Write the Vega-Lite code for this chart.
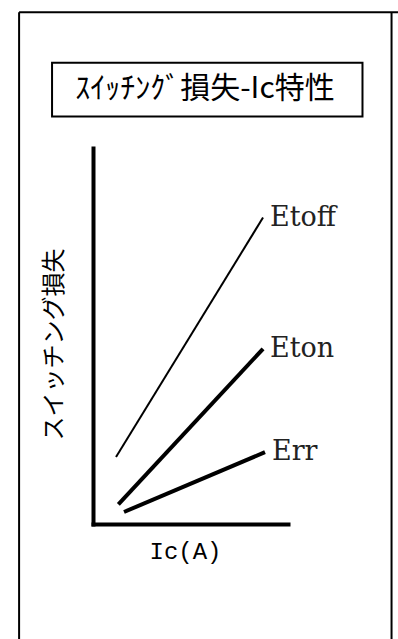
{
  "$schema": "https://vega.github.io/schema/vega-lite/v6.json",
  "width": 195,
  "height": 376,
  "autosize": {"type": "none"},
  "padding": {"left": 93, "top": 148, "right": 110, "bottom": 115},
  "background": "white",
  "config": {"view": {"stroke": null}},
  "data": {"values": [
    {"series": "Etoff", "ic": 11.8, "loss": 17.8},
    {"series": "Etoff", "ic": 87.2, "loss": 81.5},
    {"series": "Eton", "ic": 13.0, "loss": 5.2},
    {"series": "Eton", "ic": 87.2, "loss": 46.6},
    {"series": "Err", "ic": 15.9, "loss": 3.2},
    {"series": "Err", "ic": 88.2, "loss": 19.1}
  ]},
  "layer": [
    {
      "mark": {"type": "line", "color": "black", "clip": false},
      "encoding": {
        "x": {"field": "ic", "type": "quantitative",
          "scale": {"domain": [0, 100], "nice": false, "zero": false},
          "axis": {"domain": true, "domainWidth": 4, "domainColor": "black", "domainCap": "square",
            "ticks": false, "labels": false, "grid": false,
            "title": "Ic(A)", "titleFont": "Liberation Mono", "titleFontSize": 24, "titleFontWeight": "normal",
            "titleColor": "black", "titlePadding": 15, "titleX": 92}},
        "y": {"field": "loss", "type": "quantitative",
          "scale": {"domain": [0, 100], "nice": false, "zero": false},
          "axis": {"domain": true, "domainWidth": 4, "domainColor": "black", "domainCap": "square",
            "ticks": false, "labels": false, "grid": false,
            "title": "スイッチング損失", "titleFont": "Noto Sans CJK JP", "titleFontSize": 24, "titleFontWeight": "normal",
            "titleColor": "black", "titlePadding": 27, "titleY": 196}},
        "detail": {"field": "series"},
        "strokeWidth": {"condition": {"test": "datum.series === 'Etoff'", "value": 2}, "value": 4}
      }
    },
    {
      "transform": [{"filter": "datum.ic > 50"}],
      "mark": {"type": "text", "align": "left", "baseline": "middle", "dx": 7, "font": "DejaVu Serif", "fontSize": 27, "color": "#222"},
      "encoding": {
        "x": {"field": "ic", "type": "quantitative"},
        "y": {"field": "loss", "type": "quantitative"},
        "text": {"field": "series"}
      }
    },
    {
      "data": {"values": [{}]},
      "mark": {"type": "rule", "color": "black", "strokeWidth": 2, "clip": false},
      "encoding": {
        "x": {"datum": -37.9, "type": "quantitative"},
        "x2": {"datum": 156.4},
        "y": {"datum": 136.1, "type": "quantitative"}
      }
    },
    {
      "data": {"values": [{}]},
      "mark": {"type": "rule", "color": "black", "strokeWidth": 2, "clip": false},
      "encoding": {
        "x": {"datum": -37.9, "type": "quantitative"},
        "y": {"datum": 136.1, "type": "quantitative"},
        "y2": {"datum": -32}
      }
    },
    {
      "data": {"values": [{}]},
      "mark": {"type": "rule", "color": "black", "strokeWidth": 2, "clip": false},
      "encoding": {
        "x": {"datum": 153.1, "type": "quantitative"},
        "y": {"datum": 136.1, "type": "quantitative"},
        "y2": {"datum": -32}
      }
    },
    {
      "data": {"values": [{}]},
      "mark": {"type": "rect", "fill": "white", "stroke": "black", "strokeWidth": 2, "clip": false},
      "encoding": {
        "x": {"datum": -21.0, "type": "quantitative"},
        "x2": {"datum": 138.2},
        "y": {"datum": 122.7, "type": "quantitative"},
        "y2": {"datum": 108.4}
      }
    },
    {
      "data": {"values": [{}]},
      "mark": {"type": "text", "align": "center", "baseline": "middle", "font": "Noto Sans CJK JP", "fontSize": 30, "color": "black", "clip": false},
      "encoding": {
        "x": {"datum": 57.4, "type": "quantitative"},
        "y": {"datum": 115.6, "type": "quantitative"},
        "text": {"value": "ｽｲｯﾁﾝｸﾞ損失-Ic特性"}
      }
    }
  ]
}
